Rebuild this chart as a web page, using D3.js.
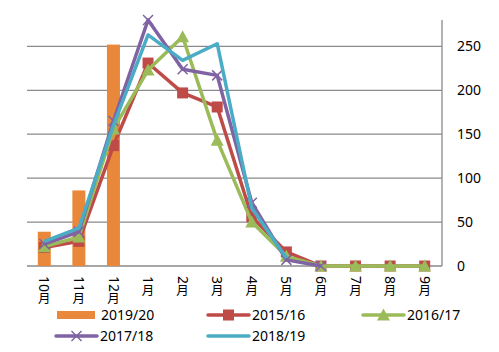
<!DOCTYPE html>
<html>
<head>
<meta charset="utf-8">
<script src="https://cdn.jsdelivr.net/npm/d3@7"></script>
<style>
  body { margin: 0; background: #fff; }
  text { font-family: "Noto Sans", "Noto Sans CJK SC", sans-serif; fill: #000; }
</style>
</head>
<body>
<div class="chart"></div>
<script>
const months = ['10月', '11月', '12月', '1月', '2月', '3月', '4月', '5月', '6月', '7月', '8月', '9月'];
const yTicks = [0, 50, 100, 150, 200, 250];

const bars1920 = [39, 86, 252, null, null, null, null, null, null, null, null, null];
const s1516 = [21, 28, 137, 231, 197, 181, 56, 16, 0, 0, 0, 0];
const s1617 = [22, 33, 156, 223, 261, 143, 50, 11, 0, 0, 0, 0];
const s1718 = [25, 39, 165, 280, 224, 217, 72, 7, 0, null, null, null];
const s1819 = [28, 43, 160, 263, 234, 253, 66, 9, null, null, null, null];

const lineSeries = [
  { name: '2015/16', values: s1516, color: '#be4b48', marker: 'square' },
  { name: '2016/17', values: s1617, color: '#9bbb59', marker: 'triangle' },
  { name: '2017/18', values: s1718, color: '#7f63a2', marker: 'cross' },
  { name: '2018/19', values: s1819, color: '#4bacc6', marker: 'none' }
];
const barColor = '#e9883a';

const width = 499, height = 352;
const plot = { left: 27, right: 442, top: 20, bottom: 266 };

const svg = d3.select('.chart').append('svg')
  .attr('width', width)
  .attr('height', height);

const x = d3.scaleBand().domain(months).range([plot.left, plot.right]);
const y = d3.scaleLinear().domain([0, 280]).range([plot.bottom, plot.top]);

// gridlines
svg.append('g').selectAll('line').data(yTicks).join('line')
  .attr('x1', plot.left).attr('x2', plot.right)
  .attr('y1', d => y(d)).attr('y2', d => y(d))
  .attr('stroke', '#8a8a8a').attr('stroke-width', 1.3);

// right axis
const yAxis = d3.axisRight(y).tickValues(yTicks).tickSize(0).tickPadding(15);
const yAxisGroup = svg.append('g')
  .attr('transform', `translate(${plot.right}, 0)`)
  .call(yAxis);
yAxisGroup.select('.domain').remove();
yAxisGroup.selectAll('text').style('font-size', '14px');
svg.append('line')
  .attr('x1', plot.right).attr('x2', plot.right)
  .attr('y1', plot.top).attr('y2', plot.bottom)
  .attr('stroke', '#8a8a8a').attr('stroke-width', 1.3);

// x labels: digits turned sideways, 月 kept upright (vertical text)
const xLabels = svg.append('g');
months.forEach(m => {
  const cx = x(m) + x.bandwidth() / 2;
  const num = m.replace('月', '');
  const t = xLabels.append('text')
    .attr('transform', `translate(${cx}, ${plot.bottom + 10}) rotate(90)`)
    .attr('dy', '0.35em')
    .style('font-size', '14px')
    .text(num);
  const len = t.node().getComputedTextLength();
  xLabels.append('text')
    .attr('x', cx)
    .attr('y', plot.bottom + 10 + len + 10.5)
    .attr('text-anchor', 'middle')
    .style('font-size', '12.5px')
    .text('月');
});

// bars
const barW = 13;
svg.append('g').selectAll('rect')
  .data(months.map((m, i) => ({ m, v: bars1920[i] })).filter(d => d.v != null))
  .join('rect')
  .attr('x', d => x(d.m) + x.bandwidth() / 2 - barW / 2)
  .attr('y', d => y(d.v))
  .attr('width', barW)
  .attr('height', d => y(0) - y(d.v))
  .attr('fill', barColor);

const drawMarker = (g, type, color, cx, cy) => {
  if (type === 'square') {
    g.append('rect')
      .attr('x', cx - 5.5).attr('y', cy - 5.5)
      .attr('width', 11).attr('height', 11)
      .attr('fill', color);
  } else if (type === 'triangle') {
    g.append('path')
      .attr('d', `M${cx},${cy - 6.5}L${cx + 6.5},${cy + 5.5}L${cx - 6.5},${cy + 5.5}Z`)
      .attr('fill', color);
  } else if (type === 'cross') {
    g.append('path')
      .attr('d', `M${cx - 5},${cy - 5}L${cx + 5},${cy + 5}M${cx - 5},${cy + 5}L${cx + 5},${cy - 5}`)
      .attr('stroke', color).attr('stroke-width', 1.5);
  }
};

const line = d3.line()
  .defined(d => d.v != null)
  .x(d => x(d.m) + x.bandwidth() / 2)
  .y(d => y(d.v));

lineSeries.forEach(s => {
  const pts = months.map((m, i) => ({ m, v: s.values[i] }));
  const g = svg.append('g');
  g.append('path')
    .datum(pts)
    .attr('fill', 'none')
    .attr('stroke', s.color)
    .attr('stroke-width', 3.5)
    .attr('stroke-linejoin', 'round')
    .attr('d', line);
  pts.filter(d => d.v != null).forEach(d => {
    drawMarker(g, s.marker, s.color, x(d.m) + x.bandwidth() / 2, y(d.v));
  });
});

// legend
const legendItems = [
  { name: '2019/20', color: barColor, type: 'bar', lx: 57, ly: 315 },
  { name: '2015/16', color: '#be4b48', type: 'square', lx: 208, ly: 315 },
  { name: '2016/17', color: '#9bbb59', type: 'triangle', lx: 363, ly: 315 },
  { name: '2017/18', color: '#7f63a2', type: 'cross', lx: 56, ly: 336 },
  { name: '2018/19', color: '#4bacc6', type: 'none', lx: 208, ly: 336 }
];

const legend = svg.append('g');
legendItems.forEach(d => {
  const g = legend.append('g');
  if (d.type === 'bar') {
    g.append('rect')
      .attr('x', d.lx).attr('y', d.ly - 4)
      .attr('width', 38).attr('height', 8)
      .attr('fill', d.color);
  } else {
    g.append('line')
      .attr('x1', d.lx).attr('x2', d.lx + 41)
      .attr('y1', d.ly).attr('y2', d.ly)
      .attr('stroke', d.color).attr('stroke-width', 3.5)
      .attr('stroke-linecap', 'round');
    drawMarker(g, d.type, d.color, d.lx + 20.5, d.ly);
  }
  g.append('text')
    .attr('x', d.lx + 44)
    .attr('y', d.ly)
    .attr('dy', '0.36em')
    .style('font-size', '14px')
    .text(d.name);
});
</script>
</body>
</html>
